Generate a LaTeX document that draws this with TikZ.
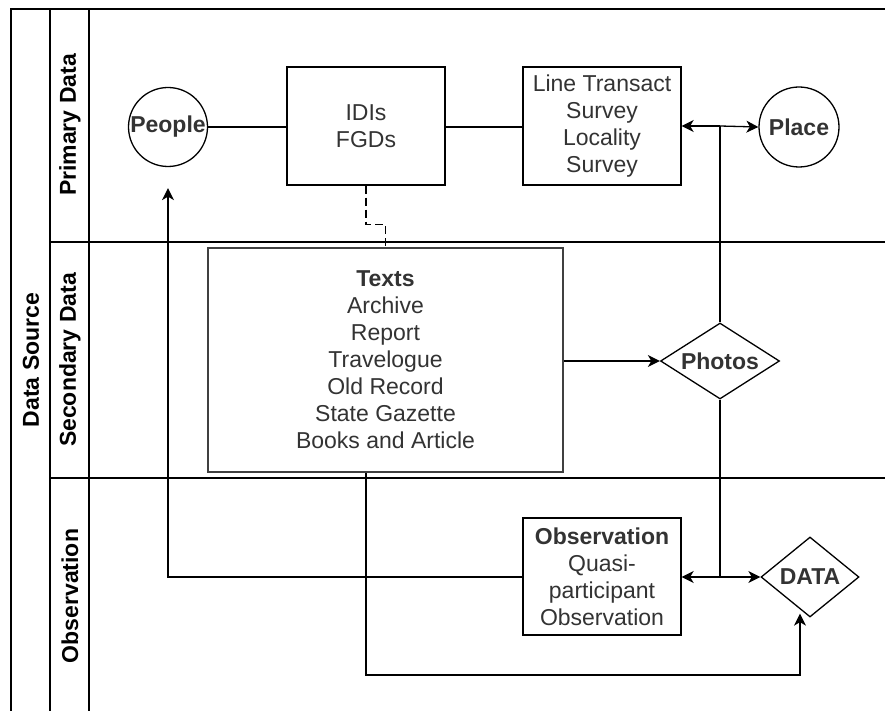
\documentclass[tikz,border=0pt]{standalone}
\usepackage{fontspec}
\setmainfont{Liberation Sans}
\usetikzlibrary{shapes.geometric,arrows.meta,calc}
\begin{document}
\begin{tikzpicture}[x=1pt,y=-1pt,
  line width=1.3pt,
  txt/.style={text=black!80, font=\fontsize{23}{27}\selectfont, align=center},
  box/.style={txt, draw, rectangle, inner sep=0pt},
  disc/.style={txt, draw, circle, inner sep=0pt, font=\fontsize{23}{27}\selectfont\bfseries},
  rhomb/.style={txt, draw, diamond, inner sep=0pt, font=\fontsize{23}{27}\selectfont\bfseries},
  lane/.style={rotate=90, font=\fontsize{23}{27}\selectfont\bfseries},
  arr/.style={-{Stealth[length=12pt,width=12pt,inset=3.5pt]}},
  darr/.style={{Stealth[length=12pt,width=12pt,inset=3.5pt]}-}]
\useasboundingbox (0,0) rectangle (885,711);
\fill[white] (0,0) rectangle (885,711);

% pool and lane frame
\draw (885,9) -- (11,9) -- (11,711);
\draw (50,9) -- (50,711);
\draw (89,9) -- (89,711);
\draw (50,242) -- (885,242);
\draw (50,478) -- (885,478);
\node[lane] (pool) at (31,360) {Data Source};
\node[lane] (laneA) at (70,125) {Primary Data};
\node[lane] (laneB) at (70,360) {Secondary Data};
\node[lane] (laneC) at (70,596) {Observation};

% primary data
\node[disc, minimum size=79pt] (people) at (168,127) {People};
\node[box, minimum width=158pt, minimum height=118pt] (idis) at (366,126) {IDIs\\FGDs};
\node[box, minimum width=158pt, minimum height=118pt] (lts) at (602,126) {Line Transact\\Survey\\Locality\\Survey};
\node[disc, minimum size=80pt] (place) at (799,127) {Place};

% secondary data
\node[box, draw=black!75, line width=2pt, minimum width=355pt, minimum height=224pt] (texts) at (385.5,360)
  {\textbf{Texts}\\Archive\\Report\\Travelogue\\Old Record\\State Gazette\\Books and Article};
\node[rhomb, minimum width=119pt, minimum height=76pt, shape aspect=1.6] (photos) at (720,361) {Photos};

% observation
\node[box, minimum width=158pt, minimum height=117pt] (obs) at (602,576.5)
  {\textbf{Observation}\\Quasi-\\participant\\Observation};
\node[rhomb, minimum width=98pt, minimum height=80pt, shape aspect=1.225] (data) at (810,577) {DATA};

% junctions
\coordinate (j1) at (photos.north |- lts.east);
\coordinate (j2) at (photos.south |- data.west);
\coordinate (tb) at ($(texts.south)+(-19.5,0)$);
\coordinate (db) at ($(data.south)+(-10,-4)$);

% connectors
\draw (people.east) -- (people.east -| idis.west);
\draw (idis.east |- people.east) -- (lts.west |- people.east);
\draw[darr] (lts.east |- j1) -- (j1);
\draw[arr] (j1) -- (place.west);
\draw (photos.north) -- (j1);
\draw[dash pattern=on 8pt off 4pt] (idis.south) -- ++(0,39) -| (texts.north);
\draw[arr] (texts.east |- photos.west) -- (photos.west);
\draw (photos.south) -- (j2);
\draw[darr] (obs.east |- j2) -- (j2);
\draw[arr] (j2) -- (data.west);
\draw[arr] (tb) -- ++(0,202) -| (db);
\draw[arr, shorten >=21pt] (obs.west |- j2) -| (people.south);
\end{tikzpicture}
\end{document}
